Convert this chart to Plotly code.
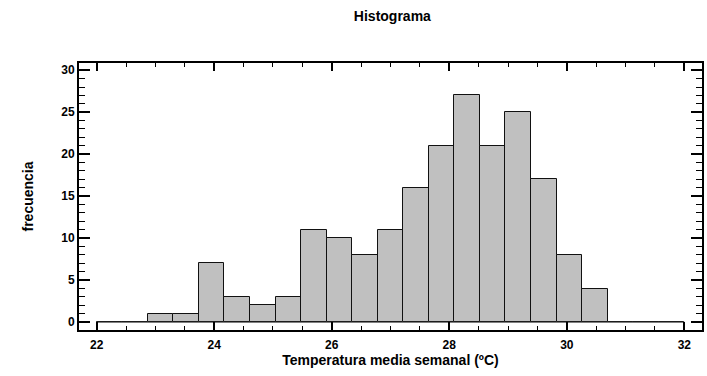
import numpy as np
import plotly.graph_objects as go

# Histogram: 23 classes between 22 and 32
x_min = 22.0
x_max = 32.0
n_classes = 23
counts = [0, 0, 1, 1, 7, 3, 2, 3, 11, 10, 8, 11, 16, 21, 27, 21, 25, 17, 8, 4, 0, 0, 0]
x_ticks = [22, 24, 26, 28, 30, 32]
y_ticks = [0, 5, 10, 15, 20, 25, 30]

edges = np.linspace(x_min, x_max, n_classes + 1)
centers = (edges[:-1] + edges[1:]) / 2
width = edges[1] - edges[0]

FONT = "Liberation Sans, Arial, sans-serif"

fig = go.Figure()
# baseline spanning all classes (zero-height classes)
fig.add_trace(go.Scatter(x=[edges[0], edges[-1]], y=[0, 0], mode="lines",
                         line=dict(color="#303030", width=1), hoverinfo="skip",
                         showlegend=False))
fig.add_trace(go.Bar(x=centers, y=counts, width=width,
                     marker=dict(color="#C0C0C0", line=dict(color="#111111", width=1)),
                     showlegend=False))

axis_common = dict(
    showgrid=False, zeroline=False, showline=True, linecolor="black", linewidth=2,
    mirror="allticks", ticks="inside", tickcolor="black", tickwidth=1.5,
    tickfont=dict(family=FONT, size=12, color="black", weight="bold"),
)

fig.update_layout(
    width=707, height=376,
    margin=dict(l=79, r=3, t=63, b=46),
    paper_bgcolor="white", plot_bgcolor="white",
    bargap=0,
    title=dict(text="Histograma", x=0.555, xanchor="center", y=0.957, yanchor="middle",
               font=dict(family=FONT, size=14, color="black", weight="bold")),
    xaxis=dict(range=[21.7, 32.3], tickvals=x_ticks, ticklen=8, ticklabelstandoff=3,
               minor=dict(dtick=0.5, tick0=22, ticks="inside", ticklen=4, tickcolor="black", tickwidth=1),
               title=dict(text="Temperatura media semanal (ºC)", standoff=4,
                          font=dict(family=FONT, size=14, color="black", weight="bold")),
               **axis_common),
    yaxis=dict(range=[-0.94, 30.86], tickvals=y_ticks, ticklen=11,
               minor=dict(dtick=1, tick0=0, ticks="inside", ticklen=6, tickcolor="black", tickwidth=1),
               title=dict(text="frecuencia", standoff=24,
                          font=dict(family=FONT, size=14, color="black", weight="bold")),
               **axis_common),
)

fig.write_html("out.html", config={"displayModeBar": False},
               post_script="document.body.style.margin='0';document.body.style.overflow='hidden';")
